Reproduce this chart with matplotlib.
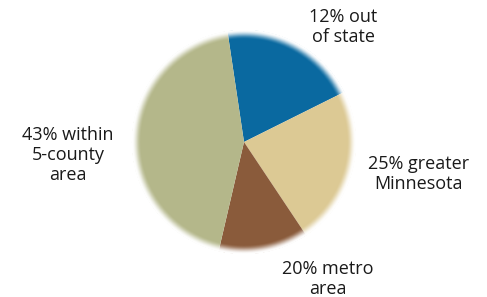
import numpy as np
from matplotlib import pyplot as plt

# wedge shares as drawn (clockwise from the top), and their colours
shares = [20, 23, 13, 44]
colors = ['#0a69a0', '#dcc994', '#8a5b3b', '#b4b78a']

labels = ['12% out\nof state', '25% greater\nMinnesota',
          '20% metro\narea', '43% within\n5-county\narea']
label_xy = [(343, 27), (419, 174), (328, 279), (68, 155)]

W, H = 487, 297
cx, cy, R = 244, 297 - 142, 112

fig = plt.figure(figsize=(W / 100, H / 100), dpi=100)
ax = fig.add_axes([0, 0, 1, 1])
ax.pie(shares, colors=colors, startangle=98.5, counterclock=False,
       center=(cx, cy), radius=R, wedgeprops=dict(linewidth=0))

# soft fade of the rim into the white page
n = 400
g = np.linspace(-1, 1, n)
xx, yy = np.meshgrid(g, g)
r = np.sqrt(xx**2 + yy**2) * (R + 1)
t = np.clip((r - (R - 9)) / 9, 0, 1)
alpha = t * t * (3 - 2 * t)
alpha[r > R + 1] = 0
img = np.ones((n, n, 4))
img[..., 3] = alpha
ax.imshow(img, extent=[cx - R - 1, cx + R + 1, cy - R - 1, cy + R + 1],
          origin='lower', interpolation='bilinear', zorder=5)

for text, (x, y) in zip(labels, label_xy):
    ax.text(x, H - y, text, ha='center', va='center', fontsize=13,
            family='Open Sans', color='#1a1a1a', linespacing=1.12,
            zorder=10)

ax.set_xlim(0, W)
ax.set_ylim(0, H)
ax.set_aspect('auto')
ax.axis('off')
fig.savefig('out.png', dpi=100, facecolor='white')
